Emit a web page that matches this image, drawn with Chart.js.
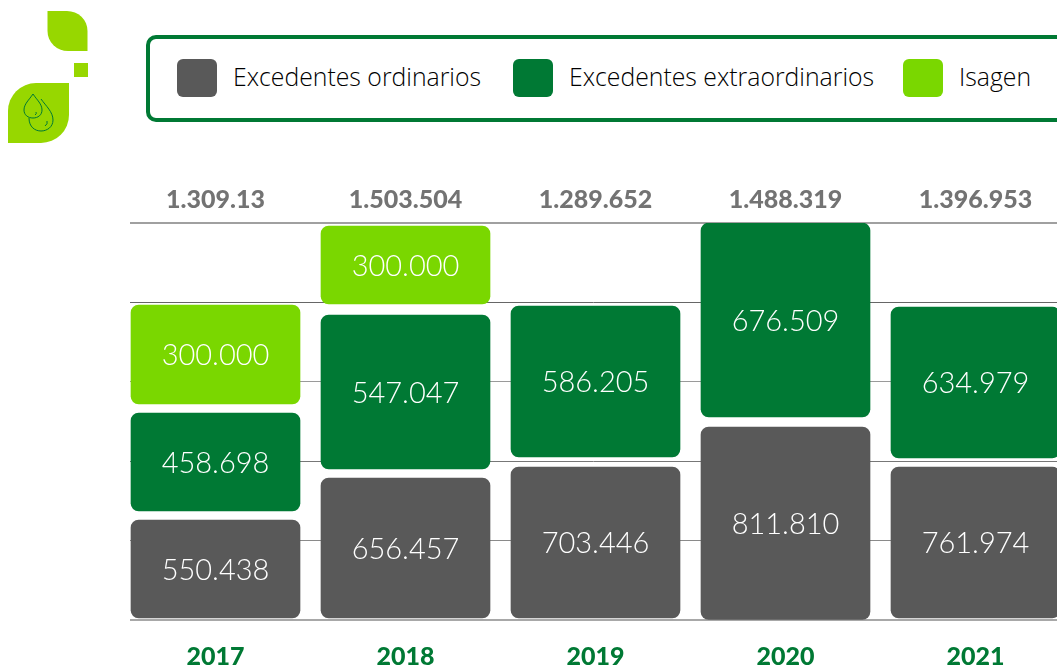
<!DOCTYPE html>
<html lang="es">
<head>
<meta charset="utf-8">
<script src="https://cdn.jsdelivr.net/npm/chart.js@4"></script>
<style>
html,body{margin:0;padding:0;background:#fff;width:1057px;height:666px;overflow:hidden}
#wrap{position:relative;width:1057px;height:666px;overflow:hidden}
canvas{position:absolute;left:0;top:0}
#logo{position:absolute;left:0;top:0}
#legend{position:absolute;left:146px;top:35px;width:1000px;height:87px;box-sizing:border-box;border:4px solid #007934;border-radius:10px;background:#fff}
.sw{position:absolute;top:20px;width:40px;height:38px;border-radius:6px}
.tx{position:absolute;top:19.5px;line-height:36px;font:300 24.8px "Open Sans",sans-serif;color:#000;white-space:nowrap}
</style>
</head>
<body>
<div id="wrap">
<canvas id="c" width="1057" height="666"></canvas>
<svg id="logo" width="100" height="150" viewBox="0 0 100 150">
<path d="M47.5 11H67A20.5 20 0 0 1 87.5 31V51H68A20.5 20 0 0 1 47.5 31Z" fill="#97d700"/>
<rect x="74" y="63" width="14" height="14" fill="#97d700"/>
<path d="M69 83H36A28 28 0 0 0 8 111V143H41A28 28 0 0 0 69 115Z" fill="#97d700"/>
<g fill="none" stroke="#007934" stroke-width="1">
<path d="M33 94C29 100 24 104 24 110C24 115 28 118 33 118C38 118 42 115 42 110C42 104 37 100 33 94Z"/>
<path d="M41 99C46 106 53 112 53 120C53 127 47 131 41 131C35 131 29 127 29 118"/>
<path d="M47 121Q48 124 45 126M36 112Q37 114 35 115"/>
</g>
</svg>
<div id="legend"></div>
</div>
<script>
const years = ['2017','2018','2019','2020','2021'];
const totals = ['1.309.13','1.503.504','1.289.652','1.488.319','1.396.953'];
const seriesNames = ['Excedentes ordinarios','Excedentes extraordinarios','Isagen'];
const seriesColors = ['#595959','#007934','#7ad700'];
// Printed values
const ordinariosText = ['550.438','656.457','703.446','811.810','761.974'];
const extraText = ['458.698','547.047','586.205','676.509','634.979'];
const isagenText = ['300.000','300.000',null,null,null];
// Drawn extents of each block on the value axis
const ordinariosDrawn = [[7500,378000],[7500,536500],[7500,578000],[2000,729000],[7500,578000]];
const extraDrawn = [[412000,782000],[570500,1152000],[616000,1186000],[767000,1500000],[612000,1182500]];
const isagenDrawn = [[816000,1190000],[1194000,1488500],null,null,null];
const axisTicks = [0,300000,600000,900000,1200000,1500000];
const gridColors = ['#a8a8a8','#8a8a8a','#777777','#9a9a9a','#666666','#a0a0a0'];
const gridWidths = [2,1,1,1,1,2];

// legend
const legendEl = document.getElementById('legend');
const swLeft = [27,363,753], txLeft = [83,419,809];
seriesNames.forEach((n,i)=>{
  const s=document.createElement('div');s.className='sw';s.style.left=swLeft[i]+'px';s.style.background=seriesColors[i];legendEl.appendChild(s);
  const t=document.createElement('div');t.className='tx';t.style.left=txLeft[i]+'px';t.textContent=n;legendEl.appendChild(t);
});

const toPts = a => a.map((v,i)=> v ? {x:i,y:v} : null).filter(Boolean);
const texts = [ordinariosText,extraText,isagenText];
const labelPlugin = {
  id:'blockLabels',
  afterDatasetsDraw(ch){
    const g=ch.ctx; g.save();
    g.font='300 29px Lato, sans-serif'; g.fillStyle='#fff'; g.textAlign='center'; g.textBaseline='middle';
    ch.data.datasets.forEach((d,di)=>{
      const meta=ch.getDatasetMeta(di);
      meta.data.forEach((el,k)=>{
        const p=d.data[k]; const txt=texts[di][p.x];
        if(txt) g.fillText(txt, el.x, (el.y+el.base)/2+1.5);
      });
    });
    g.restore();
  }
};
const xMin=-85.5/190, xMax=(1057-215.5)/190;
const yearTicks = s => { s.ticks = years.map((_,i)=>({value:i})); };
new Chart(document.getElementById('c'),{
  type:'bar',
  data:{datasets:[
    {label:seriesNames[0],data:toPts(ordinariosDrawn),backgroundColor:seriesColors[0]},
    {label:seriesNames[1],data:toPts(extraDrawn),backgroundColor:seriesColors[1]},
    {label:seriesNames[2],data:toPts(isagenDrawn),backgroundColor:seriesColors[2]}
  ].map(d=>Object.assign(d,{barThickness:169,borderRadius:8,borderSkipped:false,grouped:false}))},
  plugins:[labelPlugin],
  options:{
    responsive:false,animation:false,
    layout:{padding:0},
    plugins:{legend:{display:false},tooltip:{enabled:false}},
    scales:{
      x:{type:'linear',position:'bottom',min:xMin,max:xMax,bounds:'data',offset:false,
        grid:{display:false},border:{display:false},
        afterFit(s){s.height=46},
        afterBuildTicks:yearTicks,
        ticks:{autoSkip:false,maxRotation:0,padding:14,color:'#007934',
          font:{family:'Lato',weight:'900',size:25},
          callback:v=>years[v]||''}},
      xTop:{type:'linear',position:'top',min:xMin,max:xMax,bounds:'data',offset:false,
        grid:{display:false},border:{display:false},
        afterFit(s){s.height=223},
        afterBuildTicks:yearTicks,
        ticks:{autoSkip:false,maxRotation:0,padding:0,color:'#737373',
          font:{family:'Lato',weight:'900',size:25},
          callback:v=>totals[v]||''}},
      y:{min:0,max:1500000,position:'left',
        border:{display:false},
        afterFit(s){s.width=130},
        afterBuildTicks(s){s.ticks=axisTicks.map(v=>({value:v}))},
        grid:{drawTicks:false,
          color:c=>gridColors[axisTicks.indexOf(c.tick.value)],
          lineWidth:c=>gridWidths[axisTicks.indexOf(c.tick.value)]},
        ticks:{display:false}}
    }
  }
});
</script>
</body>
</html>
